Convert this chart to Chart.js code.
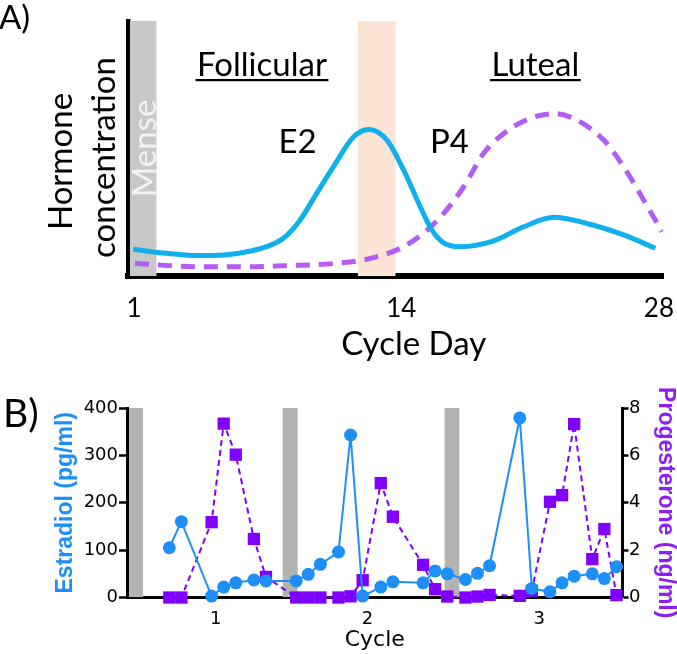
<!DOCTYPE html>
<html>
<head>
<meta charset="utf-8">
<script src="https://cdn.jsdelivr.net/npm/chart.js"></script>
<style>
  body { margin: 0; background: #fff; }
  canvas { display: block; }
</style>
</head>
<body>
<canvas id="schemeChart" width="677" height="370"></canvas>
<canvas id="cycleChart" width="677" height="284"></canvas>
<script>
// A) schematic curves, x = cycle day, y = arbitrary level (0-100)
const e2Days = [0.96, 2.69, 4.41, 6.13, 7.85, 8.71, 9.57, 10.43, 11.29, 12.34, 13.12, 14.06, 14.92, 15.78, 16.38, 16.99, 17.85, 19.57, 21.12, 22.67, 24.39, 26.28, 27.91];
const e2Level = [10.5, 8.9, 8.0, 8.6, 11.5, 14.8, 21.9, 32.4, 42.8, 54.6, 57.5, 53.3, 41.5, 27.1, 18.0, 13.0, 11.5, 13.8, 19.3, 23.0, 20.6, 16.1, 10.9];
const p4Days = [1.05, 3.03, 4.75, 6.99, 8.71, 11.48, 13.2, 14.92, 16.13, 16.99, 18.02, 19.05, 20.09, 21.46, 22.75, 23.87, 25.25, 26.28, 27.31, 28.26];
const p4Level = [5.0, 4.0, 3.6, 3.6, 4.0, 5.0, 6.9, 11.5, 18.0, 24.6, 35.0, 48.1, 55.9, 61.8, 63.7, 61.1, 53.3, 42.8, 29.8, 17.4];
const menseBand = [[0.79, 2.17]];
const ovulationBand = [[12.55, 14.51]];
const dayTicks = [1, 14.8, 28.1];
const dayTickLabels = ['1', '14', '28'];

// B) measured hormones over three cycles
const sampleDays = [3.5, 4.5, 7, 8, 9, 10.5, 11.5, 14, 15, 16, 17.5, 18.5, 19.5, 21, 22, 24.5, 25.5, 26.5, 28, 29, 30, 32.5, 33.5, 35, 36, 37, 38.5, 39.5, 40.5];
const estradiol = [105, 160, 3, 22, 31, 37, 35, 35, 49, 70, 96, 343, 3, 22, 33, 31, 56, 50, 38, 51, 67, 379, 19, 12, 31, 45, 50, 40, 65];
const progesterone = [0, 0, 3.18, 7.34, 6.03, 2.47, 0.87, 0, 0, 0, 0, 0.05, 0.73, 4.83, 3.41, 1.38, 0.35, 0.04, 0, 0.04, 0.11, 0.07, 0.28, 4.04, 4.32, 7.32, 1.62, 2.89, 0.1];
const menseBands = [[0.17, 1.32], [12.88, 14.12], [26.28, 27.52]];
const cycleTicks = [7.35, 19.9, 34.1];
const cycleLabels = ['1', '2', '3'];

// outline of shaded day ranges, filled down to zero
function bandOutline(bands, top) {
  const pts = [];
  bands.forEach(([a, b]) => {
    pts.push({ x: a, y: 0 }, { x: a, y: top }, { x: b, y: top }, { x: b, y: 0 });
  });
  return pts;
}

function toPoints(xs, ys) {
  return xs.map((x, i) => ({ x: x, y: ys[i] }));
}

// fixed box sizes, no extra room for edge labels
function fixBox(size) {
  return s => {
    if (s.isHorizontal()) s.height = size; else s.width = size;
    s.paddingLeft = 0; s.paddingRight = 0; s.paddingTop = 0; s.paddingBottom = 0;
  };
}

const schemeText = {
  id: 'schemeText',
  afterDraw(chart) {
    const ctx = chart.ctx;
    ctx.save();
    ctx.fillStyle = '#000';
    ctx.textBaseline = 'alphabetic';
    ctx.font = '33px Lato';
    ctx.textAlign = 'left';
    ctx.fillText('A)', -1, 29);

    ctx.textAlign = 'center';
    [['Follicular', 262], ['Luteal', 535.3]].forEach(([txt, cx]) => {
      ctx.fillText(txt, cx, 76);
      const w = ctx.measureText(txt).width;
      ctx.fillRect(cx - w / 2 - 1.5, 79, w + 3, 2.2);
    });
    ctx.fillText('E2', 297.5, 152.7);
    ctx.fillText('P4', 449.5, 152.7);
    ctx.fillText('Cycle Day', 413.7, 354.5);

    const vertical = (txt, x, y, color) => {
      ctx.save();
      ctx.translate(x, y);
      ctx.rotate(-Math.PI / 2);
      ctx.fillStyle = color;
      ctx.fillText(txt, 0, 0);
      ctx.restore();
    };
    vertical('Mense', 156, 148.5, '#f2f2f2');
    vertical('Hormone', 71.7, 161.5, '#000');
    vertical('concentration', 115, 157.5, '#000');
    ctx.restore();
  }
};

const panelLabel = {
  id: 'panelLabel',
  afterDraw(chart) {
    const ctx = chart.ctx;
    ctx.save();
    ctx.fillStyle = '#000';
    ctx.font = '39px Lato';
    ctx.textBaseline = 'alphabetic';
    ctx.fillText('B)', 3, 57);
    ctx.restore();
  }
};

new Chart(document.getElementById('schemeChart'), {
  type: 'line',
  data: {
    datasets: [
      {
        data: toPoints(e2Days, e2Level),
        borderColor: '#0fb0ec', borderWidth: 5,
        cubicInterpolationMode: 'monotone', pointRadius: 0, order: 0
      },
      {
        data: toPoints(p4Days, p4Level),
        borderColor: '#b35cf6', borderWidth: 5, borderDash: [14, 9],
        cubicInterpolationMode: 'monotone', pointRadius: 0, order: 1
      },
      {
        data: bandOutline(menseBand, 100),
        fill: 'origin', backgroundColor: '#c8c8c8', borderWidth: 0, pointRadius: 0, order: 3
      },
      {
        data: bandOutline(ovulationBand, 100),
        fill: 'origin', backgroundColor: '#fce5d5', borderWidth: 0, pointRadius: 0, order: 3
      }
    ]
  },
  options: {
    responsive: false,
    animation: false,
    devicePixelRatio: 1,
    layout: { padding: { top: 21, right: 14, left: 0, bottom: 0 } },
    plugins: { legend: { display: false }, tooltip: { enabled: false } },
    scales: {
      x: {
        type: 'linear', min: 0.69, max: 28.31, z: 1,
        afterBuildTicks: s => { s.ticks = dayTicks.map(v => ({ value: v })); },
        afterFit: fixBox(94),
        grid: { display: false, drawTicks: false },
        border: { display: true, color: '#000', width: 6 },
        ticks: {
          padding: 17, color: '#000', autoSkip: false, maxRotation: 0,
          font: { family: 'Lato', size: 26 },
          callback: (v, i) => dayTickLabels[i]
        }
      },
      y: {
        min: 0, max: 100, z: 1,
        afterFit: fixBox(128),
        grid: { display: false, drawTicks: false },
        border: { display: true, color: '#000', width: 4.5 },
        ticks: { display: false }
      }
    }
  },
  plugins: [schemeText]
});

const tickFont = { family: 'DejaVu Sans', size: 18 };

new Chart(document.getElementById('cycleChart'), {
  type: 'line',
  data: {
    datasets: [
      {
        data: toPoints(sampleDays, estradiol), yAxisID: 'yE',
        borderColor: '#1e8ff7', borderWidth: 2, tension: 0,
        pointStyle: 'circle', pointRadius: 6.5, pointBorderWidth: 0,
        pointBackgroundColor: '#1e8ff7', clip: false, order: 0
      },
      {
        data: toPoints(sampleDays, progesterone), yAxisID: 'yP',
        borderColor: '#8000ff', borderWidth: 2, borderDash: [6, 4], tension: 0,
        pointStyle: 'rect', pointRadius: 8.7, pointBorderWidth: 0,
        pointBackgroundColor: '#8000ff', clip: false, order: 1
      },
      {
        data: bandOutline(menseBands, 400), yAxisID: 'yE',
        fill: 'origin', backgroundColor: '#b3b3b3', borderWidth: 0, pointRadius: 0, order: 3
      }
    ]
  },
  options: {
    responsive: false,
    animation: false,
    devicePixelRatio: 1,
    layout: { padding: { top: 38, right: 0, left: 0, bottom: 0 } },
    plugins: { legend: { display: false }, tooltip: { enabled: false } },
    scales: {
      x: {
        type: 'linear', min: 0, max: 41,
        afterBuildTicks: s => { s.ticks = cycleTicks.map(v => ({ value: v })); },
        afterFit: fixBox(56.5),
        grid: { display: false, drawTicks: false },
        border: { display: true, color: '#000', width: 3 },
        ticks: {
          padding: 11.2, color: '#000', autoSkip: false, maxRotation: 0, font: tickFont,
          callback: (v, i) => cycleLabels[i]
        },
        title: {
          display: true, text: 'Cycle', color: '#000',
          font: { family: 'DejaVu Sans', size: 22, lineHeight: 1 },
          padding: { top: 0, bottom: 2.6 }
        }
      },
      yE: {
        position: 'left', min: 0, max: 400,
        afterFit: fixBox(127),
        ticks: { stepSize: 100, padding: 1, color: '#000', font: tickFont },
        grid: { display: true, drawOnChartArea: false, drawTicks: true, tickLength: 8, tickWidth: 2.5, tickColor: '#000' },
        border: { display: true, color: '#000', width: 3 },
        title: {
          display: true, text: 'Estradiol (pg/ml)', color: '#1e8ff7',
          font: { family: 'Liberation Sans', size: 23, weight: 'bold', lineHeight: 1 },
          padding: { top: 54.5, bottom: 0 }
        }
      },
      yP: {
        position: 'right', min: 0, max: 8,
        afterFit: fixBox(54.5),
        ticks: { stepSize: 2, padding: 0.5, color: '#000', font: tickFont },
        grid: { display: true, drawOnChartArea: false, drawTicks: true, tickLength: 6, tickWidth: 2.5, tickColor: '#000' },
        border: { display: true, color: '#000', width: 3 },
        title: {
          display: true, text: 'Progesterone (ng/ml)', color: '#8c1ff5',
          font: { family: 'Liberation Sans', size: 23, weight: 'bold', lineHeight: 1 },
          padding: { top: 0.5, bottom: 0 }
        }
      }
    }
  },
  plugins: [panelLabel]
});
</script>
</body>
</html>
